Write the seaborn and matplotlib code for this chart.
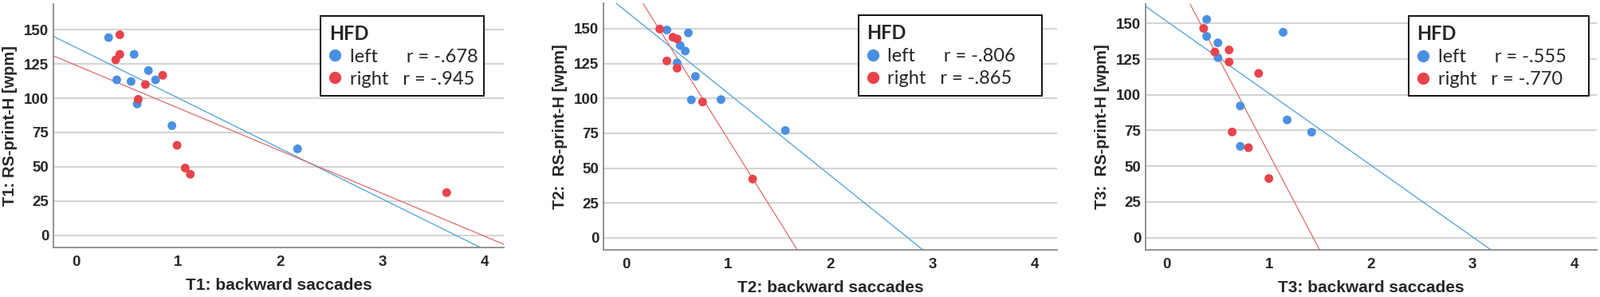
import seaborn as sns
import matplotlib.pyplot as plt
import pandas as pd
from matplotlib.lines import Line2D

# Valores (backward saccades vs. RS-print-H [wpm])
t1_left_x = [0.32, 0.57, 0.40, 0.54, 0.71, 0.78, 0.60, 0.94, 2.17]
t1_left_y = [144.2, 132.0, 113.4, 112.2, 120.2, 113.4, 95.8, 80.0, 63.1]
t1_right_x = [0.43, 0.43, 0.39, 0.85, 0.68, 0.61, 0.99, 1.07, 1.12, 3.63]
t1_right_y = [146.3, 132.0, 128.0, 116.7, 110.0, 99.2, 65.7, 49.1, 44.6, 31.2]

t2_left_x = [0.40, 0.61, 0.53, 0.58, 0.50, 0.68, 0.64, 0.93, 1.56]
t2_left_y = [149.1, 147.0, 138.0, 134.0, 125.5, 115.8, 99.0, 99.2, 77.0]
t2_right_x = [0.33, 0.46, 0.50, 0.40, 0.50, 0.75, 1.24]
t2_right_y = [149.8, 143.9, 142.7, 126.9, 121.7, 97.5, 42.2]

t3_left_x = [0.39, 0.39, 0.50, 0.50, 1.14, 0.72, 1.18, 1.42, 0.72]
t3_left_y = [152.8, 140.9, 136.4, 126.0, 143.8, 92.2, 82.4, 73.8, 63.9]
t3_right_x = [0.36, 0.47, 0.61, 0.61, 0.90, 0.64, 0.80, 1.00]
t3_right_y = [146.5, 130.0, 131.4, 123.0, 115.0, 74.0, 63.0, 41.4]

r_values = [["-.678", "-.945"], ["-.806", "-.865"], ["-.555", "-.770"]]
groups = ["left", "right"]
y_ticks = [0, 25, 50, 75, 100, 125, 150]
x_ticks = [0, 1, 2, 3, 4]

datos = [
    (t1_left_x, t1_left_y, t1_right_x, t1_right_y),
    (t2_left_x, t2_left_y, t2_right_x, t2_right_y),
    (t3_left_x, t3_left_y, t3_right_x, t3_right_y),
]

colores = {"left": "#4a90e2", "right": "#e8434b"}
colores_linea = {"left": "#4aa0dc", "right": "#e06a6a"}

sns.set_style("white")
plt.rcParams["font.family"] = ["Liberation Sans", "DejaVu Sans"]

fig = plt.figure(figsize=(20.07, 3.72), dpi=100)
posiciones = [
    [0.0334, 0.1667, 0.2815, 0.8199],
    [0.3772, 0.1586, 0.2835, 0.8306],
    [0.7160, 0.1586, 0.2820, 0.8280],
]
xlims = [(-0.22, 4.19), (-0.22, 4.22), (-0.21, 4.22)]
ylims = [(-8.8, 168.7), (-8.6, 168.3), (-8.6, 163.6)]
leg_x = [0.593, 0.562, 0.583]
leg_w = [0.363, 0.405, 0.399]
ylabels = ["T1: RS-print-H [wpm]", "T2:  RS-print-H [wpm]", "T3:  RS-print-H [wpm]"]
xlabels = ["T1: backward saccades", "T2: backward saccades", "T3: backward saccades"]
leyenda_fuente = ["Lato", "DejaVu Sans"]

for i, (lx, ly, rx, ry) in enumerate(datos):
    ax = fig.add_axes(posiciones[i])
    df = pd.DataFrame({
        "x": lx + rx,
        "y": ly + ry,
        "HFD": ["left"] * len(lx) + ["right"] * len(rx),
    })
    ax.set_xlim(*xlims[i])
    ax.set_ylim(*ylims[i])

    # líneas de ajuste (hasta los bordes del eje)
    for g in groups:
        sub = df[df["HFD"] == g]
        sns.regplot(data=sub, x="x", y="y", ax=ax, scatter=False, ci=None,
                    truncate=False, color=colores_linea[g],
                    line_kws={"linewidth": 0.9, "zorder": 2})

    sns.scatterplot(data=df, x="x", y="y", hue="HFD", palette=colores,
                    s=62, linewidth=0, legend=False, ax=ax, zorder=3)

    ax.set_xlim(*xlims[i])
    ax.set_ylim(*ylims[i])
    ax.set_yticks(y_ticks)
    ax.set_xticks(x_ticks)
    ax.yaxis.grid(True, color="#d4d4d4", linewidth=1.5, zorder=0)
    ax.set_axisbelow(True)
    ax.tick_params(length=0, labelsize=13.5, pad=4)
    ax.tick_params(axis="x", pad=7)
    for lab in ax.get_xticklabels() + ax.get_yticklabels():
        lab.set_fontweight("bold")
    for s in ["top", "right"]:
        ax.spines[s].set_visible(False)
    for s in ["left", "bottom"]:
        ax.spines[s].set_color("#8a8a8a")
        ax.spines[s].set_linewidth(1.3)

    ax.set_ylabel(ylabels[i], fontsize=14.5, fontweight="bold", labelpad=6)
    ax.set_xlabel(xlabels[i], fontsize=15, fontweight="bold", labelpad=8)

    handles = [Line2D([], [], marker="o", linestyle="none", markersize=11,
                      markerfacecolor=colores[g], markeredgewidth=0) for g in groups]
    etiquetas = ["left      r = " + r_values[i][0],
                 "right   r = " + r_values[i][1]]
    leg = ax.legend(handles, etiquetas, title="HFD", loc="upper left",
                    bbox_to_anchor=(leg_x[i], 0.951 - 0.34, leg_w[i], 0.34),
                    mode="expand", frameon=True, fancybox=False,
                    framealpha=1, edgecolor="black", handlelength=0.6,
                    handletextpad=0.5, borderpad=0.45, labelspacing=0.3,
                    borderaxespad=0, alignment="left",
                    prop={"family": leyenda_fuente, "size": 17},
                    title_fontproperties={"family": leyenda_fuente,
                                          "size": 17, "weight": "bold"})
    leg.get_frame().set_linewidth(1.3)

fig.savefig("out.png", dpi=100)
